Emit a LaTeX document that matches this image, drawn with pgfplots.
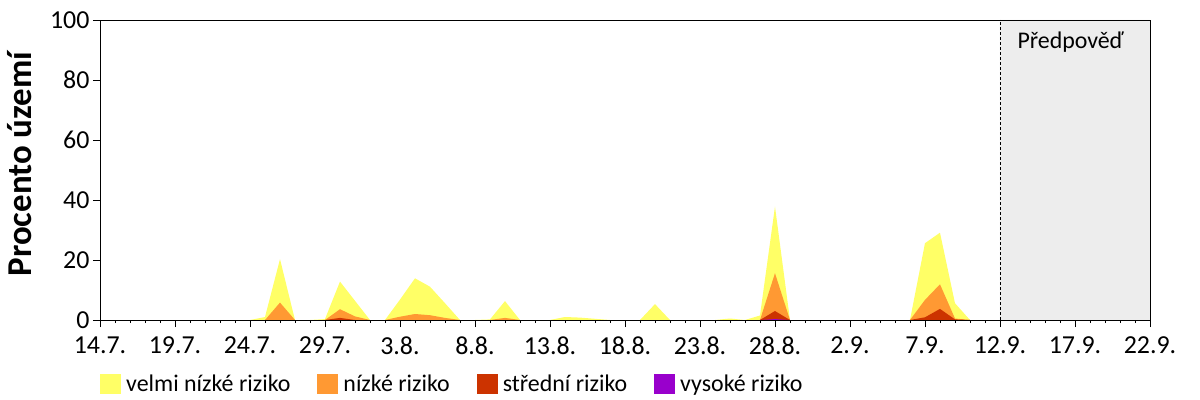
\documentclass[border=0pt]{standalone}
\usepackage{pgfplots}
\pgfplotsset{compat=1.18}
\usepackage{fontspec}
\setmainfont{Carlito}
\definecolor{vnr}{HTML}{FFFF66}
\definecolor{nr}{HTML}{FF9933}
\definecolor{sr}{HTML}{CC3300}
\definecolor{vr}{HTML}{9900CC}
\definecolor{fc}{HTML}{EDEDED}

\begin{document}
\begin{tikzpicture}
\useasboundingbox (-100bp,-80bp) rectangle (1100bp,320bp);
\begin{axis}[
  at={(0,0)}, anchor=south west,
  scale only axis, width=1050bp, height=300bp,
  xmin=0, xmax=70, ymin=0, ymax=100,
  xtick={0,5,...,70},
  xticklabels={14.7.,19.7.,24.7.,29.7.,3.8.,8.8.,13.8.,18.8.,23.8.,28.8.,2.9.,7.9.,12.9.,17.9.,22.9.},
  minor x tick num=4,
  ytick={0,20,...,100},
  tick align=outside,
  tick pos=left,
  major tick length=7bp, minor tick length=3bp,
  tick style={black, line width=0.8bp},
  axis line style={black, line width=0.8bp},
  axis on top=true,
  xticklabel style={font=\fontsize{26}{30}\selectfont, yshift=-6bp},
  yticklabel style={font=\fontsize{26}{30}\selectfont},
  /pgf/number format/assume math mode=true,
  ylabel={Procento území},
  ylabel style={font=\bfseries\fontsize{35}{40}\selectfont, at={(axis description cs:-0.065,0.52)}, anchor=base},
  legend style={at={(axis description cs:0,-0.2133)}, anchor=west, draw=none, fill=none,
    font=\fontsize{24}{28}\selectfont, inner sep=0pt,
    nodes={inner sep=0pt},
    /tikz/every odd column/.append style={column sep=5bp},
    /tikz/every even column/.append style={column sep=27bp}},
  legend columns=4,
  legend cell align=left,
  legend image code/.code={\fill[#1] (0bp,-10bp) rectangle (21bp,10bp);},
]

% forecast window
\addplot[forget plot, fill=fc, draw=none] coordinates {(60,0) (60,100) (70,100) (70,0)} \closedcycle;
\addplot[forget plot, black, line width=0.8bp, dash pattern=on 3bp off 2bp] coordinates {(60,0) (60,100)};

% velmi nizke riziko (all classes together)
\addplot[fill=vnr, draw=none] coordinates {
  (0,0) (10,0) (11,1.0) (12,20.3) (13,0) (14,0) (15,0.3) (16,12.8) (17,6.4) (18,0)
  (19,0) (20,6.8) (21,13.9) (22,11.1) (23,5.6) (24,0) (25,0) (26,0.2) (27,6.3) (28,0)
  (30,0) (31,1.0) (32,0.8) (33,0.4) (34,0) (36,0) (37,5.3) (38,0) (41,0) (42,0.5)
  (43,0) (44,1.5) (45,37.8) (46,0) (54,0) (55,25.6) (56,29.1) (57,5.6) (58,0) (59,0)
} \closedcycle;
\addlegendentry{velmi nízké riziko}

% nizke riziko
\addplot[fill=nr, draw=none] coordinates {
  (0,0) (11,0) (12,5.8) (13,0) (15,0) (16,3.6) (17,1.2) (18,0) (19,0) (20,1.1)
  (21,2.0) (22,1.6) (23,0.7) (24,0) (26,0) (27,0.7) (28,0) (44,0) (45,15.6) (46,0)
  (54,0) (55,6.7) (56,11.9) (57,0.5) (58,0) (59,0)
} \closedcycle;
\addlegendentry{nízké riziko}

% stredni riziko
\addplot[fill=sr, draw=none] coordinates {
  (0,0) (15,0) (16,0.7) (17,0) (44,0) (45,3.0) (46,0) (54,0) (55,0.9) (56,3.7)
  (57,0.2) (58,0) (59,0)
} \closedcycle;
\addlegendentry{střední riziko}

% vysoke riziko
\addplot[fill=vr, draw=none] coordinates {
  (0,0) (44,0) (45,0.3) (46,0) (59,0)
} \closedcycle;
\addlegendentry{vysoké riziko}

\node[font=\fontsize{24}{28}\selectfont] at (axis cs:64.7,92.7) {Předpověď};
\end{axis}
\end{tikzpicture}
\end{document}
